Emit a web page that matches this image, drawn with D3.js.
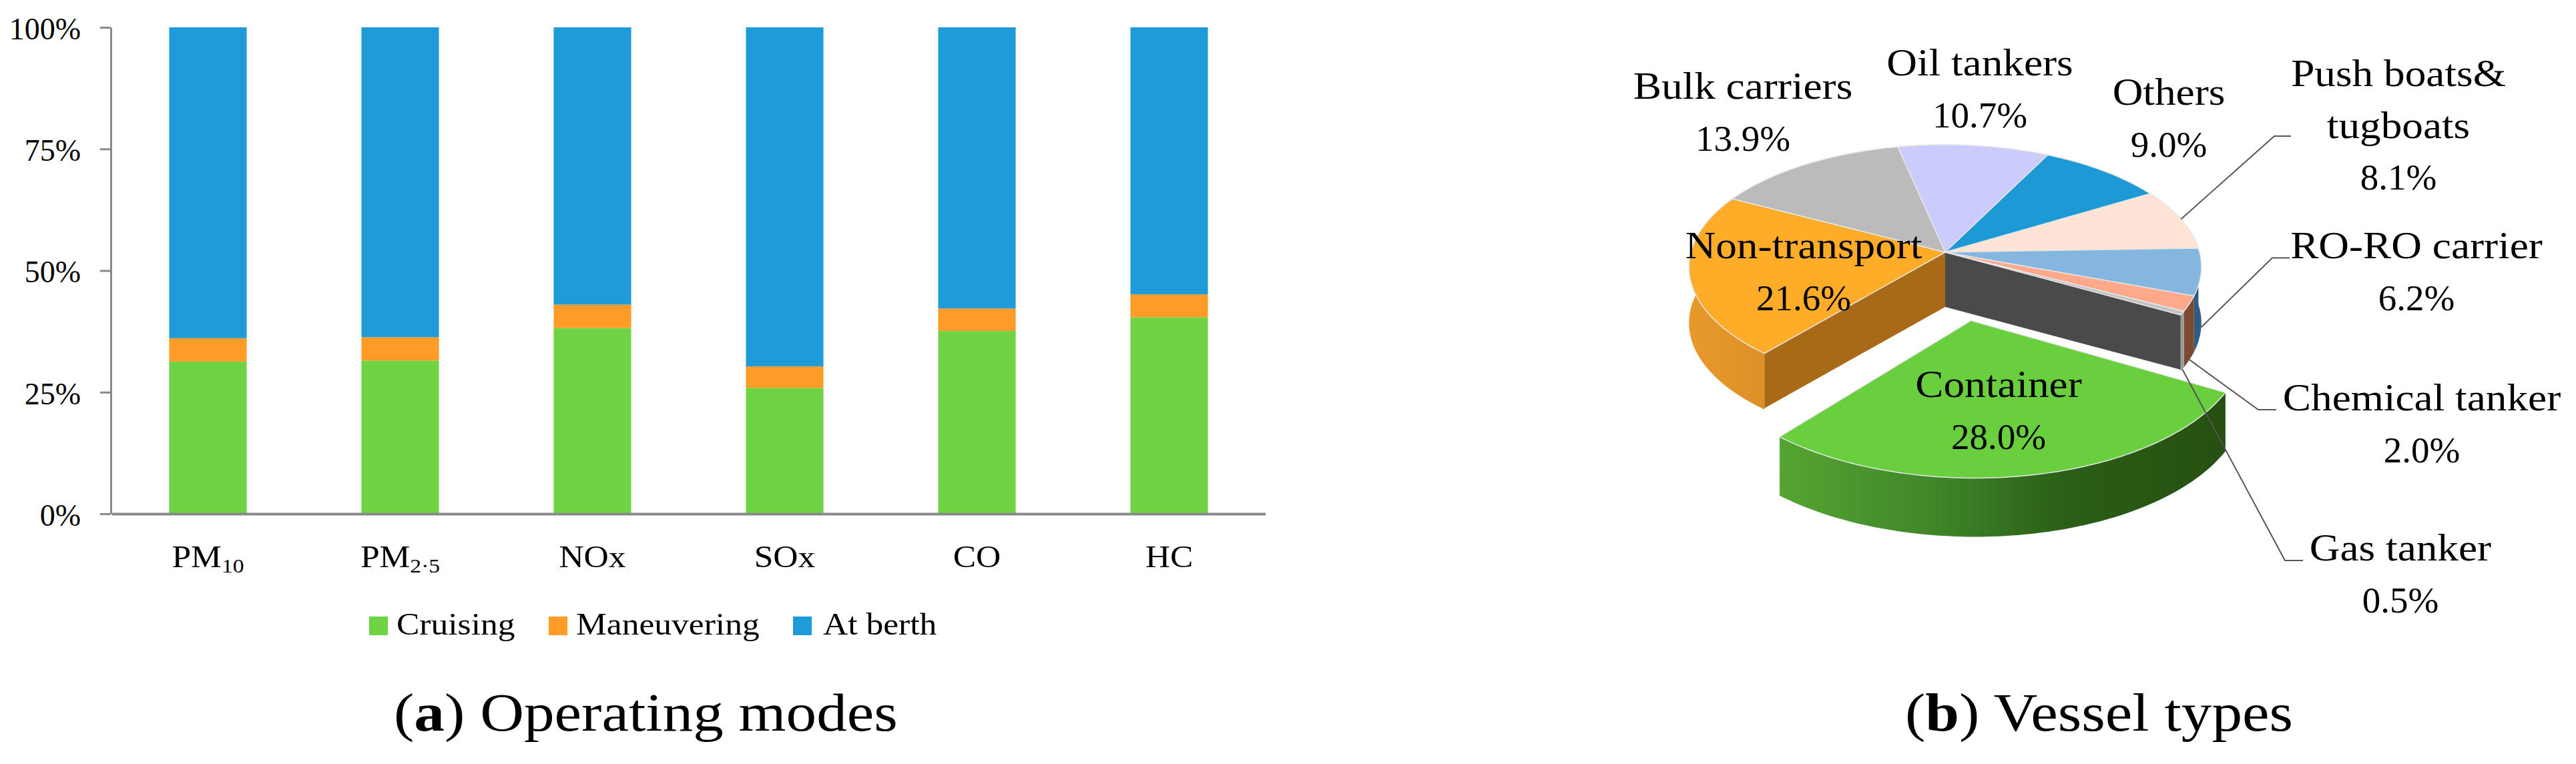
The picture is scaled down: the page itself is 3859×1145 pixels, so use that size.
<!DOCTYPE html>
<html>
<head>
<title>Emissions by operating mode and vessel type</title>
<script src="https://d3js.org/d3.v7.min.js"></script>
<style>
body { margin: 0; background: #fff; }
svg { display: block; }
text { font-family: 'Liberation Serif', serif; fill: #000; }
</style>
</head>
<body>

<svg height="1145" width="3859" id="chart"></svg>
<script>

  // (a) operating modes, percent of total
  var categories = ["PM10", "PM2·5", "NOx", "SOx", "CO", "HC"];
  var modes = ["Cruising", "Maneuvering", "At berth"];
  var cruising = [31.3, 31.5, 38.2, 25.9, 37.6, 40.4];
  var maneuvering = [4.8, 4.8, 4.8, 4.4, 4.6, 4.7];
  var atBerth = [63.9, 63.7, 57.0, 69.7, 57.8, 54.9];
  var yTicks = [0, 25, 50, 75, 100];

  // (b) vessel types, clockwise from the exploded slice
  var vesselTypes = ["Container", "Non-transport", "Bulk carriers", "Oil tankers", "Others",
    "Push boats&\ntugboats", "RO-RO carrier", "Chemical tanker", "Gas tanker"];
  var vesselShares = [28.0, 21.6, 13.9, 10.7, 9.0, 8.1, 6.2, 2.0, 0.5];

  var modeColors = ["#6FD344", "#FF9B26", "#1E9CD9"];
  var sliceColors = ["#69CF3F", "#FFAD29", "#BBBBBB", "#CCCCFC", "#1D9AD6", "#FFE3D4", "#85B6DF", "#FFA98A", "#C4C4C4"];
  var wallColors = ["url(#containerWall)", "url(#nonTransportWall)", "#888", "#888", "#888", "#888", "#2E5C82", "#7A4A33", "#9A9A9A"];

  var svg = d3.select("#chart");

  // Times is narrower than the Palatino of the original, so letters get widened
  function widen(sel, k) {
    sel.each(function () {
      var len = this.getComputedTextLength();
      d3.select(this).attr("textLength", len * k).attr("lengthAdjust", "spacingAndGlyphs");
    });
  }

  // ---- stacked bars ----
  var xScale = d3.scaleBand().domain(categories).range([167.5, 1895.5]).paddingInner(0.597).paddingOuter(0.2985);
  var yScale = d3.scaleLinear().domain([0, 100]).range([770, 41]);

  var table = categories.map(function (c, i) {
    return { category: c, "Cruising": cruising[i], "Maneuvering": maneuvering[i], "At berth": atBerth[i] };
  });
  var series = d3.stack().keys(modes)(table);

  svg.append("g").selectAll("g")
    .data(series)
    .join("g")
    .attr("fill", function (d, i) { return modeColors[i]; })
    .selectAll("rect")
    .data(function (d) { return d; })
    .join("rect")
    .attr("x", function (d) { return xScale(d.data.category); })
    .attr("y", function (d) { return yScale(d[1]); })
    .attr("width", xScale.bandwidth())
    .attr("height", function (d) { return yScale(d[0]) - yScale(d[1]); });

  var yAxis = svg.append("g")
    .attr("transform", "translate(166,0)")
    .call(d3.axisLeft(yScale).tickValues(yTicks).tickFormat(function (d) { return d + "%"; })
      .tickSize(16).tickSizeOuter(0).tickPadding(29));
  yAxis.selectAll("path, line").attr("stroke", "#898989").attr("stroke-width", 3);
  yAxis.selectAll("text").attr("font-size", 46).attr("dy", "0.38em").attr("font-family", "Liberation Serif");

  var xAxis = svg.append("g")
    .attr("transform", "translate(0,770)")
    .call(d3.axisBottom(xScale).tickSize(0).tickSizeOuter(0).tickPadding(0));
  xAxis.select("path").attr("stroke", "#898989").attr("stroke-width", 4);
  xAxis.selectAll("text")
    .attr("font-size", 46)
    .attr("font-family", "Liberation Serif")
    .attr("y", 80)
    .attr("dy", null)
    .each(function (d) {
      var m = d.match(/^(PM)(.*)$/);
      var t = d3.select(this).text(null);
      t.append("tspan").text(m ? m[1] : d);
      if (m) t.append("tspan").attr("font-size", 30).attr("dy", 8).text(m[2]);
    })
    .call(widen, 1.12);

  // legend
  var legendX = [553, 822, 1188];
  var legend = svg.append("g").selectAll("g")
    .data(modes)
    .join("g")
    .attr("transform", function (d, i) { return "translate(" + legendX[i] + ",924)"; });
  legend.append("rect")
    .attr("width", 28).attr("height", 28)
    .attr("fill", function (d, i) { return modeColors[i]; });
  legend.append("text")
    .attr("x", function (d, i) { return [41, 41, 45][i]; })
    .attr("y", 27)
    .attr("font-size", 46)
    .text(function (d) { return d; })
    .call(widen, 1.12);

  // ---- 3D pie ----
  // top face is a unit circle pushed through a perspective map, so angles stay true
  var cx = 2914, cy = 378, rx = 381, ry = 180.4, persp = 0.12;
  var depth = 84, explodedDepth = 88, explode = 0.54;
  var startAngle = 119.4 * Math.PI / 180;

  function project(angle, r, off) {
    var u = r * Math.sin(angle) + off[0];
    var v = -r * Math.cos(angle) + off[1];
    var d = 1 - persp * v;
    return [cx + rx * u / d, cy + ry * v / d];
  }

  function rim(a0, a1, off, drop) {
    var n = Math.max(2, Math.ceil((a1 - a0) / 0.02));
    return d3.range(n + 1).map(function (i) {
      var p = project(a0 + (a1 - a0) * i / n, 1, off);
      return [p[0], p[1] + drop];
    });
  }

  var arcs = d3.pie().sort(null).startAngle(startAngle).endAngle(startAngle + 2 * Math.PI)(vesselShares);
  var line = d3.line();
  var noOffset = [0, 0];

  var defs = svg.append("defs");
  function wallGradient(id, x1, x2, stops) {
    var g = defs.append("linearGradient").attr("id", id)
      .attr("gradientUnits", "userSpaceOnUse")
      .attr("x1", x1).attr("x2", x2).attr("y1", 0).attr("y2", 0);
    stops.forEach(function (s) {
      g.append("stop").attr("offset", s[0]).attr("stop-color", s[1]);
    });
  }
  wallGradient("containerWall", 2664, 3330, [[0, "#55A532"], [0.35, "#40862A"], [0.65, "#2A5E16"], [1, "#275012"]]);
  wallGradient("nonTransportWall", 2530, 2650, [[0, "#E8992A"], [1, "#DC8F26"]]);

  function outerWall(d, off, drop) {
    var top = rim(d.startAngle, d.endAngle, off, 0);
    var bottom = rim(d.startAngle, d.endAngle, off, drop).reverse();
    return line(top.concat(bottom)) + "Z";
  }
  function sideWall(angle, off, drop) {
    var apex = project(0, 0, off);
    var edge = project(angle, 1, off);
    return line([apex, edge, [edge[0], edge[1] + drop], [apex[0], apex[1] + drop]]) + "Z";
  }
  function topFace(d, off) {
    return line([project(0, 0, off)].concat(rim(d.startAngle, d.endAngle, off, 0))) + "Z";
  }

  var pie = svg.append("g");
  var rest = arcs.slice(1);
  var container = arcs[0];

  pie.append("g").selectAll("path")
    .data(rest)
    .join("path")
    .attr("d", function (d) { return outerWall(d, noOffset, depth); })
    .attr("fill", function (d) { return wallColors[d.index]; });

  // cut faces either side of the gap left by the exploded slice
  pie.append("path").attr("d", sideWall(container.endAngle, noOffset, depth - 2)).attr("fill", "#A96A17");
  pie.append("path").attr("d", sideWall(container.startAngle, noOffset, depth - 2)).attr("fill", "#4A4A4A");

  pie.append("g").selectAll("path")
    .data(rest)
    .join("path")
    .attr("d", function (d) { return topFace(d, noOffset); })
    .attr("fill", function (d) { return sliceColors[d.index]; })
    .attr("stroke", "#E6E6E6")
    .attr("stroke-width", 1.5);

  var mid = (container.startAngle + container.endAngle) / 2;
  var containerOffset = [explode * Math.sin(mid), -explode * Math.cos(mid)];
  pie.append("path")
    .attr("d", outerWall(container, containerOffset, explodedDepth))
    .attr("fill", wallColors[0]);
  pie.append("path")
    .attr("d", topFace(container, containerOffset))
    .attr("fill", sliceColors[0])
    .attr("stroke", "#E6E6E6")
    .attr("stroke-width", 1.5);

  // leader lines: out of the slice, up or down to the elbow, then along to the label
  var leaders = [
    { index: 5, drop: 0, elbow: [3407, 204], end: 3432 },
    { index: 6, drop: 83, elbow: [3404, 386.5], end: 3430 },
    { index: 7, drop: 84, elbow: [3383, 614], end: 3410 },
    { index: 8, drop: 84, elbow: [3423, 840], end: 3450 }
  ];
  svg.append("g").selectAll("path")
    .data(leaders)
    .join("path")
    .attr("fill", "none")
    .attr("stroke", "#555")
    .attr("stroke-width", 2)
    .attr("d", function (d) {
      var a = arcs[d.index];
      var p = project((a.startAngle + a.endAngle) / 2, 1, noOffset);
      return line([[p[0], p[1] + d.drop], d.elbow, [d.end, d.elbow[1]]]);
    });

  // label placement, same order as vesselTypes: centre x, first baseline
  var labelSpots = [[2994, 595], [2702, 387], [2611, 148], [2966, 113], [3249, 157],
    [3593, 129], [3620, 387], [3628, 615], [3596, 840]];
  var labels = svg.append("g").selectAll("g")
    .data(vesselTypes)
    .join("g")
    .attr("transform", function (d, i) { return "translate(" + labelSpots[i] + ")"; });
  labels.each(function (name, i) {
    var g = d3.select(this);
    var rows = name.split("\n");
    rows.forEach(function (r, j) {
      g.append("text").attr("text-anchor", "middle").attr("font-size", 56).attr("y", j * 78).text(r).call(widen, 1.13);
    });
    g.append("text").attr("text-anchor", "middle").attr("font-size", 55)
      .attr("y", rows.length * 77.5)
      .text(vesselShares[i].toFixed(1) + "%");
  });

  // captions
  var captions = [
    { x: 590, tag: "a", title: "Operating modes" },
    { x: 2854, tag: "b", title: "Vessel types" }
  ];
  svg.append("g").selectAll("text")
    .data(captions)
    .join("text")
    .attr("x", function (d) { return d.x; })
    .attr("y", 1095)
    .attr("font-size", 80)
    .each(function (d) {
      var t = d3.select(this);
      t.append("tspan").text("(");
      t.append("tspan").attr("font-weight", "bold").text(d.tag);
      t.append("tspan").text(") " + d.title);
    })
    .call(widen, 1.14);

</script>
</body>
</html>
